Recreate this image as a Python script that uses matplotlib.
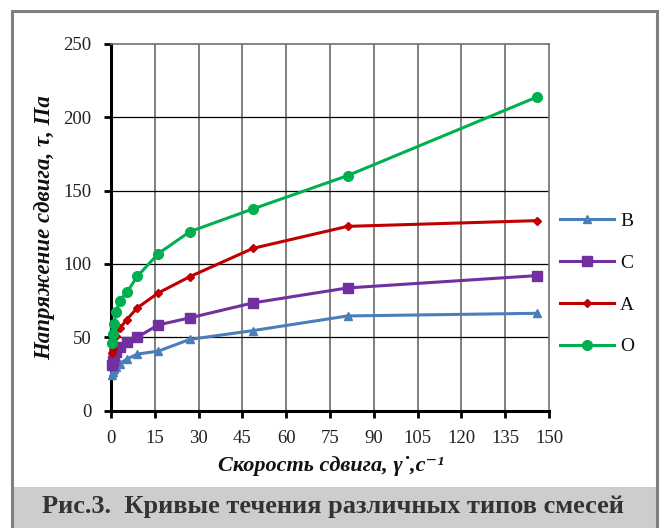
import matplotlib
matplotlib.use('Agg')
import matplotlib.pyplot as plt
from matplotlib.patches import Rectangle

# shear rate, 1/s
shear_rate = [0.333, 0.6, 1.0, 1.8, 3.0, 5.4, 9.0, 16.2, 27.0, 48.6, 81.0, 145.8]

# shear stress, Pa
stress_b = [24, 26, 28, 30, 32, 35, 38.5, 40.5, 48.5, 54.5, 64.5, 66.3]
stress_c = [31, 34, 37, 40, 43, 47, 50, 58.4, 63.2, 73.4, 83.6, 92]
stress_a = [39, 42, 46, 51, 56, 62, 70, 80.2, 91.3, 110.6, 125.6, 129.5]
stress_o = [46, 52, 59, 67, 75, 80.5, 91.5, 107, 122, 137.5, 160.2, 213.8]

series_names = ['B', 'C', 'A', 'O']

x_ticks = list(range(0, 151, 15))
y_ticks = list(range(0, 251, 50))

SERIF = ['Liberation Serif', 'DejaVu Serif']
W, H, DPI = 665, 528, 100

fig = plt.figure(figsize=(W / DPI, H / DPI), dpi=DPI)
fig.patch.set_facecolor('white')


def fx(px):
    return px / W


def fy(py):
    return 1 - py / H


# outer frame and caption band
fig.add_artist(Rectangle((fx(12), fy(528)), fx(645), (528 - 487) / H, transform=fig.transFigure,
                         facecolor='#cdcdcd', edgecolor='none', zorder=0))
fig.add_artist(Rectangle((fx(12), fy(540)), fx(645), (540 - 11) / H, transform=fig.transFigure,
                         facecolor='none', edgecolor='#808080', linewidth=2.2, zorder=1))

ax = fig.add_axes((fx(111), fy(410.5), fx(549 - 111), (410.5 - 44) / H))

styles = [
    dict(color='#4a7ebb', marker='^', markersize=6),
    dict(color='#7030a0', marker='s', markersize=7.5),
    dict(color='#c00000', marker='D', markersize=4),
    dict(color='#00b050', marker='o', markersize=7),
]
for name, ys, st in zip(series_names, [stress_b, stress_c, stress_a, stress_o], styles):
    ax.plot(shear_rate, ys, color=st['color'], marker=st['marker'], markersize=st['markersize'],
            markeredgecolor=st['color'], linewidth=2.2, label=name, zorder=3, clip_on=False)

ax.set_xlim(0, 150)
ax.set_ylim(0, 250)
ax.set_xticks(x_ticks)
ax.set_yticks(y_ticks)

for v in x_ticks[1:-1]:
    ax.axvline(v, color='#808080', linewidth=1.4, zorder=1)
for v in y_ticks[1:-1]:
    ax.axhline(v, color='black', linewidth=0.9, zorder=1)

for side in ('top', 'right'):
    ax.spines[side].set_color('#707070')
    ax.spines[side].set_linewidth(1.2)
for side in ('left', 'bottom'):
    ax.spines[side].set_color('black')
    ax.spines[side].set_linewidth(2.2)

ax.tick_params(direction='out', length=5, width=2, color='black')
ax.tick_params(axis='x', pad=9)
ax.tick_params(axis='y', pad=9)
for lbl in ax.get_xticklabels() + ax.get_yticklabels():
    lbl.set_family(SERIF)
    lbl.set_fontsize(13.5)
    lbl.set_color('#222222')

fig.text(fx(331), fy(466), 'Скорость сдвига, γ˙,с⁻¹', family=SERIF, style='italic', fontweight='bold',
         fontsize=16, ha='center', va='center', color='#111111')
fig.text(fx(45), fy(228), 'Напряжение сдвига, τ, Па', family=SERIF, style='italic', fontweight='bold',
         fontsize=16.5, ha='center', va='center', rotation=90, color='#111111')

handles, labels = ax.get_legend_handles_labels()
leg = fig.legend(handles, labels, loc='center left', bbox_to_anchor=(fx(560), fy(284)),
                 frameon=False, borderpad=0, borderaxespad=0, handlelength=2.8, handletextpad=0.3,
                 labelspacing=1.24, prop={'family': SERIF, 'size': 14})
for t in leg.get_texts():
    t.set_color('#111111')

fig.text(fx(333), fy(507), 'Рис.3.  Кривые течения различных типов смесей', family=SERIF,
         fontweight='bold', fontsize=19, ha='center', va='center', color='#333333')

fig.savefig('out.png', dpi=DPI)
